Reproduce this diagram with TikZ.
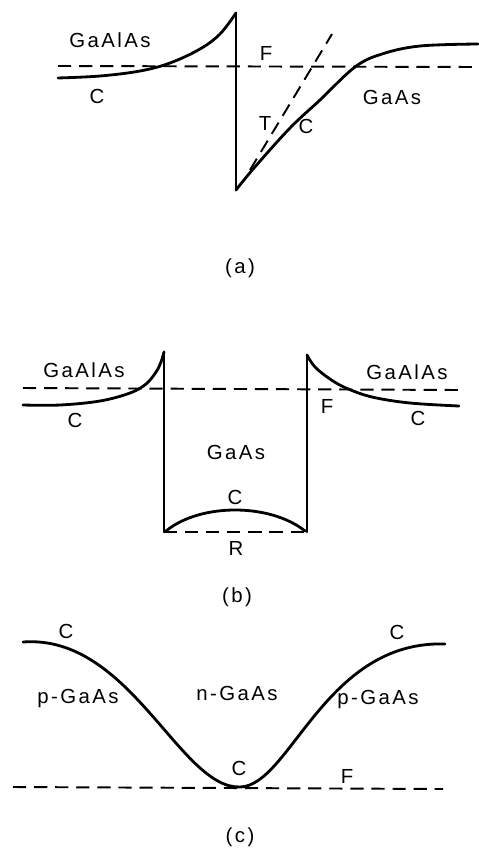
\documentclass[tikz,border=0pt]{standalone}
\usepackage{fontspec}
\setmainfont{Liberation Sans}
\newfontfamily\labfont[LetterSpace=12]{Liberation Sans}
\usetikzlibrary{positioning}

\begin{document}
\begin{tikzpicture}[x=0.02cm, y=-0.02cm, every node/.style={font=\labfont\fontsize{11.6}{13}\selectfont, inner sep=1pt}]
    \tikzstyle{band}=[line width=1.6pt, line join=round, line cap=round]
    \tikzstyle{level}=[line width=1.1pt, dash pattern=on 7.5pt off 4.5pt]
    \useasboundingbox (0,0) rectangle (478,849);
    % (a) heterojunction
    \coordinate (aL) at (58,66);
    \coordinate (aR) at (478,67);
    \coordinate (atop) at (236,13);
    \coordinate (abot) at (236,190);
    \draw[level] (aL) -- (aR);
    \draw[band] plot[smooth, tension=0.6] coordinates {(58,78) (100,76) (140,71) (170,63) (200,49) (220,34) (236,13)};
    \draw[band] (atop) -- (abot);
    \draw[band] plot[smooth, tension=0.6] coordinates {(236,190) (254,168) (290,128) (320,100) (355,67) (382,54) (420,46) (478,44)};
    \coordinate (tA) at (250,170);
    \coordinate (tB) at (332,34);
    \draw[level] (tA) -- (tB);
    \node (ga1) at (110,40) {GaAlAs};
    \node (f1) at (266,53) {F};
    \node (c1) at (97,96) {C};
    \node (t1) at (265,123) {T};
    \node (c2) at (306,126) {C};
    \node (gaas1) at (392,97) {GaAs};
    \node (capa) at (240,268) {(a)};
    % (b) quantum well
    \coordinate (bL) at (23,388);
    \coordinate (bR) at (459,390);
    \coordinate (wlt) at (164,352);
    \coordinate (wlb) at (164,532);
    \coordinate (wrt) at (307,355);
    \coordinate (wrb) at (307,532);
    \draw[level] (bL) -- (bR);
    \draw[band] plot[smooth, tension=0.6] coordinates {(23,405) (60,405) (100,401) (130,393) (146,384) (156,372) (161,362) (164,352)};
    \draw[band] plot[smooth, tension=0.6] coordinates {(307,355) (315,367) (330,379) (346,388) (372,397) (410,403) (459,406)};
    \draw[band] (wlt) -- (wlb);
    \draw[band] (wrt) -- (wrb);
    \draw[level, line width=1.4pt] (wlb) -- (wrb);
    \draw[band] (166,531) .. controls (200,503) and (270,503) .. (305,531);
    \node (ga2) at (84,370) {GaAlAs};
    \node (c3) at (75,420) {C};
    \node (f2) at (327,406) {F};
    \node (ga3) at (407,372) {GaAlAs};
    \node (c4) at (418,418) {C};
    \node (gaas2) at (236,452) {GaAs};
    \node (c5) at (235,497) {C};
    \node (r1) at (236,548) {R};
    \node (capb) at (237,597) {(b)};
    % (c) p-n-p structure
    \coordinate (cL) at (13,787);
    \coordinate (cR) at (443,789);
    \coordinate (cmin) at (240,787);
    \draw[level] (cL) -- (cR);
    \draw[band] (23,642) .. controls (130,634) and (180,789) .. (cmin)
                .. controls (290,786) and (325,640) .. (445,644);
    \node (c6) at (66,631) {C};
    \node (p1) at (78,698) {p-GaAs};
    \node (n1) at (237,693) {n-GaAs};
    \node (p2) at (378,699) {p-GaAs};
    \node (c7) at (397,632) {C};
    \node (c8) at (239,768) {C};
    \node (f3) at (347,776) {F};
    \node (capc) at (240,837) {(c)};
  \end{tikzpicture}
\end{document}
